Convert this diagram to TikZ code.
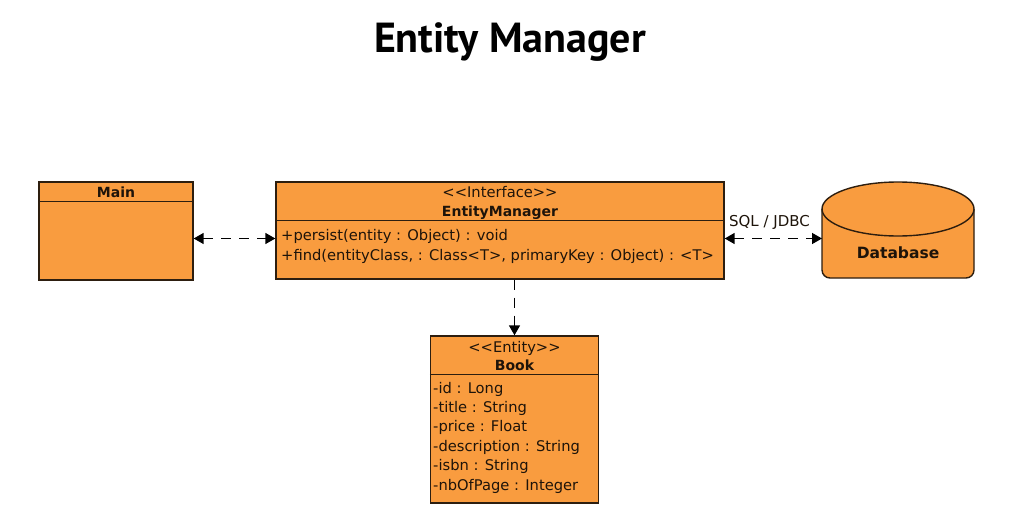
\documentclass[tikz,border=0pt]{standalone}
\usepackage{fontspec}
\setmainfont{DejaVu Sans}
\newfontfamily\titlefont{PT Sans}
\usetikzlibrary{arrows.meta}

\definecolor{umlorange}{RGB}{249,156,63}
\definecolor{umlline}{RGB}{45,30,15}
\definecolor{umlink}{RGB}{30,20,10}

\tikzset{
	umlbox/.style={draw=umlline, fill=umlorange, line width=1.4pt, inner sep=0pt},
	umltext/.style={text=umlink, inner sep=0pt, font=\fontsize{14.7}{17}\selectfont},
	umlbold/.style={text=umlink, inner sep=0pt, font=\fontsize{14}{16}\selectfont\bfseries},
	dep/.style={draw=black, line width=1.5pt, dash pattern=on 10pt off 8pt}
}

% стереотип без лигатуры << >>
\newcommand{\stereo}[1]{<\kern0pt<#1>\kern0pt>}

\begin{document}
\begin{tikzpicture}[x=1pt, y=-1pt, >={Triangle[length=10pt,width=11pt]}]
		\fill [white] ( 0, 0 ) rectangle ( 1011, 524 );
		\useasboundingbox ( 0, 0 ) rectangle ( 1011, 524 );

		% заголовок
		\node [anchor=base, inner sep=0pt, font=\titlefont\bfseries\fontsize{42}{46}\selectfont] (title) at ( 510, 53 ) {Entity Manager};

		% класс Main
		\node [umlbox, minimum width=154pt, minimum height=98pt] (main) at ( 116, 231 ) {};
		\draw [umlline, line width=1.4pt] (main.north west) ++( 0, 20 ) -- ++( 154, 0 );
		\node [umlbold, anchor=base] (mainname) at ( 116, 197 ) {Main};

		% интерфейс EntityManager
		\node [umlbox, minimum width=448pt, minimum height=97pt] (em) at ( 500, 230.5 ) {};
		\draw [umlline, line width=1.4pt] (em.north west) ++( 0, 39 ) -- ++( 448, 0 );
		\node [umltext, anchor=base] (emstereo) at ( 500, 197 ) {\stereo{Interface}};
		\node [umlbold, anchor=base] (emname) at ( 500, 216 ) {EntityManager};
		\node [umltext, anchor=base west] (persist) at ( 281, 240 ) {+persist(entity : Object) : void};
		\node [umltext, anchor=base west] (find) at ( 281, 260 ) {+find(entityClass, : Class<T>, primaryKey : Object) : <T>};

		% сущность Book
		\node [umlbox, minimum width=168pt, minimum height=167pt] (book) at ( 514.5, 419.5 ) {};
		\draw [umlline, line width=1.4pt] (book.north west) ++( 0, 39 ) -- ++( 168, 0 );
		\node [umltext, anchor=base] (bookstereo) at ( 514.5, 352 ) {\stereo{Entity}};
		\node [umlbold, anchor=base] (bookname) at ( 514.5, 370 ) {Book};
		\foreach \attr [count=\i from 0] in {-id : Long, -title : String, -price : Float, -description : String, -isbn : String, -nbOfPage : Integer}
			\node [umltext, anchor=base west] (attr\i) at ( 433, 393 + 19.4*\i ) {\attr};

		% база данных
		\filldraw [umlbox, rounded corners=8pt] ( 822, 209 ) -- ( 822, 278 ) -- ( 974, 278 ) -- ( 974, 209 );
		\filldraw [umlbox] ( 898, 209 ) ellipse [x radius=76, y radius=27];
		\node [text=umlink, inner sep=0pt, anchor=base, font=\fontsize{15.5}{17}\selectfont\bfseries] (db) at ( 898, 258 ) {Database};
		\coordinate (dbleft) at ( 822, 238.5 );

		% связи
		\coordinate (link) at ( 0, 238.5 );
		\draw [dep, <->] (main.east |- link) -- (em.west |- link);
		\draw [dep, <->] (em.east |- link) -- (dbleft);
		\node [text=umlink, inner sep=0pt, anchor=base, font=\fontsize{15}{17}\selectfont] (sql) at ( 769.5, 226 ) {SQL / JDBC};
		\draw [dep, ->] (em.south -| book.north) -- (book.north);
	\end{tikzpicture}
\end{document}
